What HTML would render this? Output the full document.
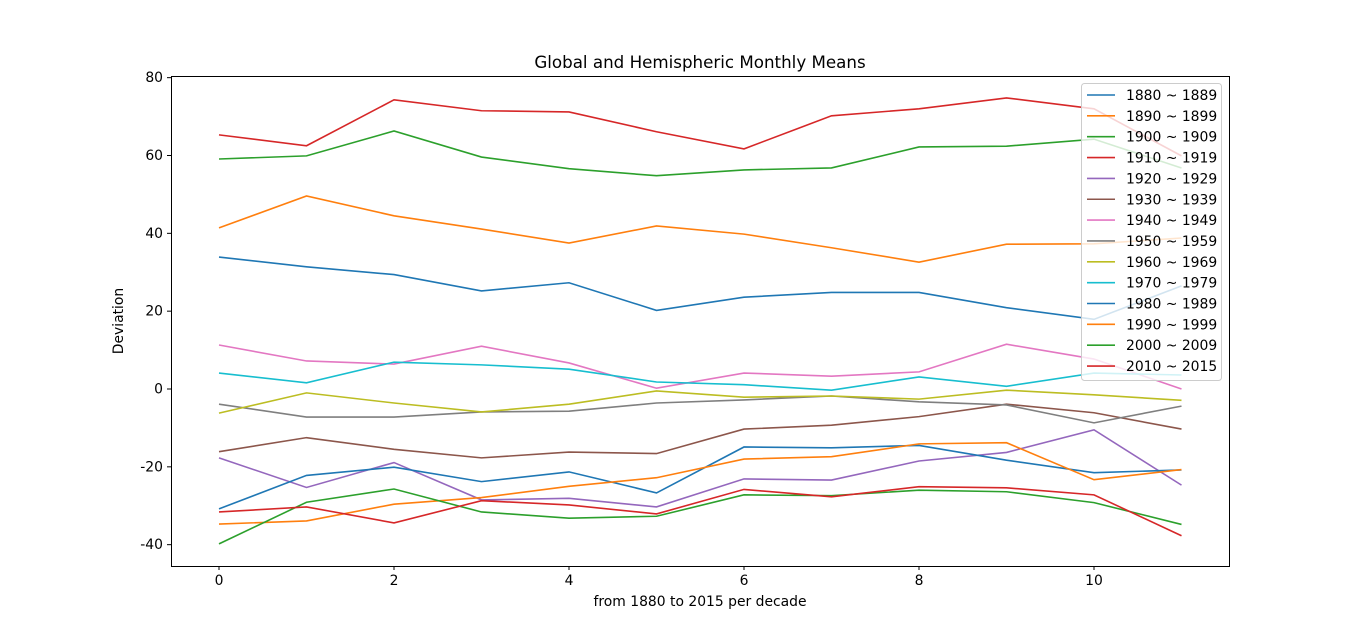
<!DOCTYPE html>
<html><head><meta charset="utf-8"><style>
body{margin:0;background:#fff;font-family:"Liberation Sans","DejaVu Sans",sans-serif}
svg text{font-family:"DejaVu Sans","Liberation Sans",sans-serif;font-size:13.9px;fill:#000}
</style></head><body>
<svg id="chart" width="1366" height="636" xmlns="http://www.w3.org/2000/svg">
<rect width="1366" height="636" fill="#fff"/>
<text x="700" y="68" text-anchor="middle" style="font-size:16.7px">Global and Hemispheric Monthly Means</text>
<text x="700" y="606" text-anchor="middle">from 1880 to 2015 per decade</text>
<text transform="translate(123,321) rotate(-90)" text-anchor="middle">Deviation</text>
<g id="plot"></g>
<rect x="171.5" y="76.5" width="1058" height="490" fill="none" stroke="#000" stroke-width="1"/>
<g id="legend"></g>
</svg>
<script>
const categories=[0,1,2,3,4,5,6,7,8,9,10,11];
const seriesNames=["1880 ~ 1889","1890 ~ 1899","1900 ~ 1909","1910 ~ 1919","1920 ~ 1929","1930 ~ 1939","1940 ~ 1949","1950 ~ 1959","1960 ~ 1969","1970 ~ 1979","1980 ~ 1989","1990 ~ 1999","2000 ~ 2009","2010 ~ 2015"];
const colors=["#1f77b4","#ff7f0e","#2ca02c","#d62728","#9467bd","#8c564b","#e377c2","#7f7f7f","#bcbd22","#17becf","#1f77b4","#ff7f0e","#2ca02c","#d62728"];
const s1880=[33.9,31.4,29.4,25.2,27.3,20.2,23.6,24.8,24.8,20.9,17.9,26.5];
const s1890=[41.4,49.6,44.5,41.1,37.5,41.9,39.8,36.3,32.6,37.2,37.3,38.8];
const s1900=[59.1,59.9,66.3,59.6,56.6,54.8,56.3,56.8,62.2,62.4,64.2,56.8];
const s1910=[65.3,62.5,74.3,71.5,71.2,66.1,61.7,70.2,72.0,74.8,72.0,59.9];
const s1920=[-17.7,-25.3,-18.9,-28.5,-28.1,-30.3,-23.1,-23.4,-18.5,-16.3,-10.5,-24.7];
const s1930=[-16.1,-12.5,-15.5,-17.7,-16.2,-16.6,-10.3,-9.3,-7.1,-3.9,-6.1,-10.3];
const s1940=[11.3,7.2,6.4,11.0,6.7,0.2,4.1,3.3,4.4,11.5,7.7,0.0];
const s1950=[-3.9,-7.2,-7.2,-5.9,-5.7,-3.6,-2.8,-1.8,-3.3,-4.1,-8.7,-4.4];
const s1960=[-6.2,-1.0,-3.6,-5.9,-3.9,-0.5,-2.1,-1.8,-2.6,-0.3,-1.5,-2.9];
const s1970=[4.1,1.6,6.9,6.2,5.1,1.8,1.1,-0.3,3.1,0.7,4.1,3.6];
const s1980=[-30.8,-22.2,-20.1,-23.8,-21.3,-26.7,-14.9,-15.1,-14.5,-18.3,-21.5,-20.8];
const s1990=[-34.7,-33.9,-29.6,-27.9,-25.0,-22.8,-18.0,-17.4,-14.1,-13.8,-23.3,-20.7];
const s2000=[-39.8,-29.1,-25.7,-31.6,-33.2,-32.7,-27.2,-27.4,-26.0,-26.4,-29.2,-34.8];
const s2010=[-31.6,-30.3,-34.4,-28.7,-29.8,-32.1,-25.8,-27.7,-25.1,-25.4,-27.2,-37.7];
const xTicks=[0,2,4,6,8,10];
const yTicks=[-40,-20,0,20,40,60,80];
const allSeries=[s1880,s1890,s1900,s1910,s1920,s1930,s1940,s1950,s1960,s1970,s1980,s1990,s2000,s2010];

const NS="http://www.w3.org/2000/svg";
const xs=v=>219+v*87.5;
const ys=v=>389-v*3.8917;
const plot=document.getElementById('plot');
function mk(t,a,p){const e=document.createElementNS(NS,t);for(const k in a)e.setAttribute(k,a[k]);(p||plot).appendChild(e);return e;}
xTicks.forEach(t=>{
  const l=mk('line',{x1:xs(t),x2:xs(t),y1:566,y2:570,stroke:'#000'});
  
  
  const tx=mk('text',{x:xs(t),y:585,'text-anchor':'middle'});tx.textContent=t;
  
  
});
yTicks.forEach(t=>{
  const l=mk('line',{x1:167,x2:171,y1:ys(t),y2:ys(t),stroke:'#000'});
  
  
  const tx=mk('text',{x:163,y:ys(t)+4.5,'text-anchor':'end'});tx.textContent=t;
  
  
});
allSeries.forEach((s,i)=>{
  const pts=s.map((v,j)=>xs(categories[j])+','+ys(v)).join(' ');
  const pl=mk('polyline',{points:pts,fill:'none',stroke:colors[i],'stroke-width':1.6});
  
  
});
const lg=document.getElementById('legend');
const box=mk('rect',{x:1081.5,y:83.5,width:140,height:297,rx:3,fill:'#fff','fill-opacity':0.8,stroke:'#ccc'},lg);


seriesNames.forEach((n,i)=>{
  const y=95+i*20.85;
  const l=mk('line',{x1:1087,x2:1115,y1:y,y2:y,stroke:colors[i],'stroke-width':1.6},lg);
  
  
  const t=mk('text',{x:1126,y:y+5},lg);t.textContent=n;
  
  
});
</script>
</body></html>
